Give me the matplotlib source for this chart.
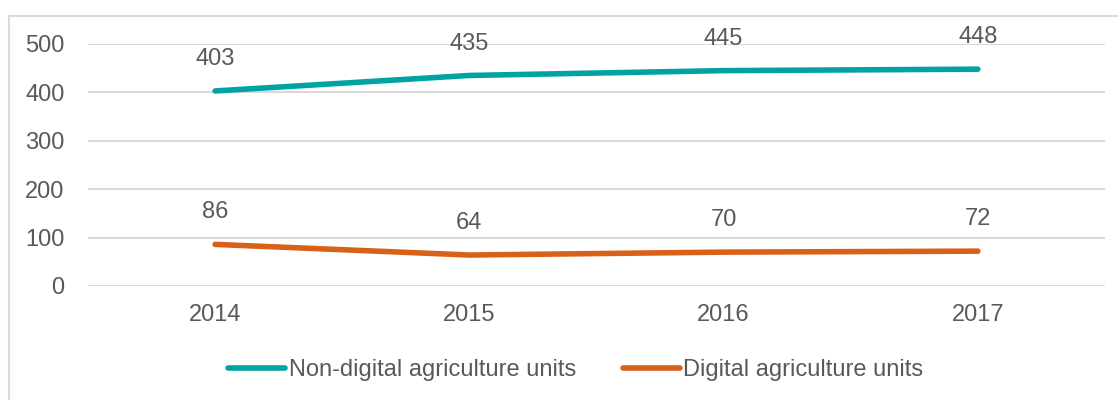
import matplotlib.pyplot as plt
from matplotlib.patches import Rectangle
import numpy as np

# Data
years = ['2014', '2015', '2016', '2017']
non_digital = [403, 435, 445, 448]
digital = [86, 64, 70, 72]
y_ticks = [0, 100, 200, 300, 400, 500]

teal = '#00A3A1'
orange = '#D86018'
text_grey = '#595959'
grid_grey = '#D9D9D9'
fs = 17

plt.rcParams['font.family'] = ['Liberation Sans', 'DejaVu Sans']

fig = plt.figure(figsize=(11.18, 4), dpi=100)
ax = fig.add_axes([88/1118, 1-286/400, (1105-88)/1118, (286-44)/400])

# light frame around the whole chart (runs off right and bottom edges)
fig.patches.append(Rectangle((8.5/1118, -0.05), 1.2, 1-15.5/400+0.05,
                             transform=fig.transFigure, fill=False,
                             edgecolor=grid_grey, linewidth=1.5, zorder=0))

x = np.arange(len(years))
ax.plot(x, non_digital, color=teal, linewidth=4, solid_capstyle='round',
        label='Non-digital agriculture units')
ax.plot(x, digital, color=orange, linewidth=4, solid_capstyle='round',
        label='Digital agriculture units')

for xi, v in zip(x, non_digital):
    ax.annotate(str(v), (xi, v), xytext=(0, 23), textcoords='offset points',
                ha='center', va='center', fontsize=fs, color=text_grey)
for xi, v in zip(x, digital):
    ax.annotate(str(v), (xi, v), xytext=(0, 23), textcoords='offset points',
                ha='center', va='center', fontsize=fs, color=text_grey)

ax.set_xlim(-0.5, len(years) - 0.5)
ax.set_ylim(0, 500)
ax.set_xticks(x)
ax.set_xticklabels(years)
ax.set_yticks(y_ticks)
ax.tick_params(axis='both', length=0, labelsize=fs, colors=text_grey)
ax.tick_params(axis='y', pad=17)
ax.tick_params(axis='x', pad=13)
ax.grid(axis='y', color=grid_grey, linewidth=1.5)
ax.set_axisbelow(True)
for s in ax.spines.values():
    s.set_visible(False)

leg = fig.legend(loc='center', bbox_to_anchor=(576/1118, 1-370/400), ncol=2,
                 frameon=False, handlelength=2.4, handletextpad=0.15,
                 columnspacing=2.0, prop={'size': fs})
for t in leg.get_texts():
    t.set_color(text_grey)

fig.savefig('out.png', dpi=100)
